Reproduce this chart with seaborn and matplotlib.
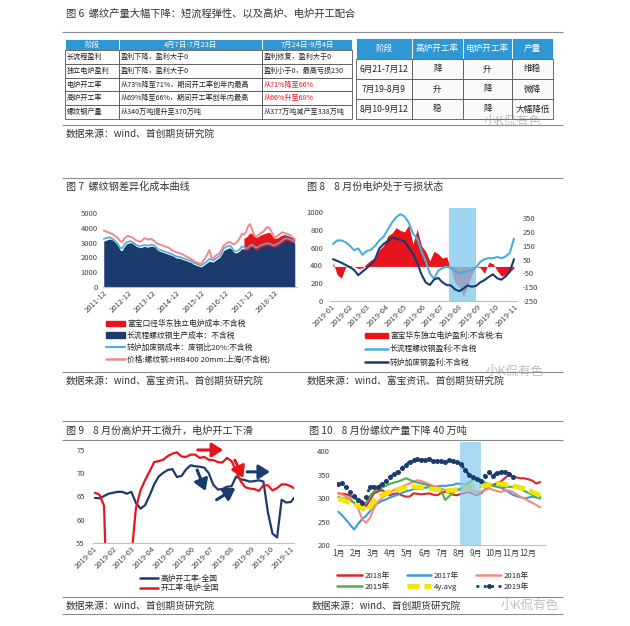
import numpy as np
import pandas as pd
import matplotlib.pyplot as plt
import matplotlib.dates as mdates
from matplotlib.patches import Rectangle, Patch
from matplotlib.lines import Line2D
import seaborn as sns

sns.set_theme(style='white')
plt.rcParams['font.family'] = ['Noto Sans CJK SC', 'DejaVu Sans']
plt.rcParams['axes.unicode_minus'] = False

# ---------------- 图6 tables ----------------
t6_header = ['阶段', '4月7日-7月23日', '7月24日-9月4日']
t6_stage = ['长流程盈利', '独立电炉盈利', '电炉开工率', '高炉开工率', '螺纹钢产量']
t6_first = ['盈利下降，盈利大于0', '盈利下降，盈利大于0', '从73%降至71%，期间开工率创年内最高',
            '从69%降至66%，期间开工率创年内最高', '从340万吨提升至370万吨']
t6_second = ['盈利修复，盈利大于0', '盈利小于0，最高亏损230', '从71%降至66%',
             '从66%升至68%', '从377万吨减产至338万吨']
t6_second_red = [False, False, True, True, False]

t6b_header = ['阶段', '高炉开工率', '电炉开工率', '产量']
t6b_period = ['6月21-7月12', '7月19-8月9', '8月10-9月12']
t6b_bf = ['降', '升', '稳']
t6b_eaf = ['升', '降', '降']
t6b_output = ['维稳', '微降', '大幅降低']

# ---------------- 图7 monthly, from 2011-12 ----------------
f7_start = '2011-12-01'
f7_long_cost = [3100,
    3150, 3200, 3250, 3200, 3100, 2950, 2800, 2500, 2450, 2700, 2900, 2950,
    3000, 2950, 2850, 2750, 2700, 2650, 2700, 2750, 2700, 2700, 2750, 2750,
    2700, 2550, 2450, 2400, 2350, 2300, 2250, 2200, 2150, 2100, 2000, 1950,
    1950, 1900, 1850, 1800, 1750, 1700, 1650, 1550, 1500, 1450, 1400, 1350,
    1450, 1550, 1650, 1750, 1700, 1700, 1800, 1900, 2000, 2200, 2450, 2550,
    2600, 2650, 2550, 2350, 2300, 2350, 2450, 2600, 2550, 2450, 2500, 2650,
    2700, 2600, 2500, 2550, 2650, 2700, 2750, 2800, 2800, 2750, 2700, 2650,
    2750, 2800, 2900, 3000, 3100, 3150, 3100, 3050, 3000, 2900]
f7_bof_scrap = [3250,
    3300, 3350, 3350, 3300, 3200, 3050, 2900, 2650, 2600, 2850, 3000, 3050,
    3100, 3050, 2950, 2850, 2800, 2750, 2800, 2850, 2800, 2800, 2850, 2850,
    2800, 2650, 2550, 2500, 2450, 2400, 2350, 2300, 2250, 2200, 2100, 2050,
    2050, 2000, 1950, 1900, 1850, 1800, 1750, 1650, 1600, 1550, 1500, 1450,
    1550, 1650, 1750, 1900, 1850, 1800, 1900, 2000, 2100, 2300, 2600, 2700,
    2750, 2800, 2700, 2450, 2400, 2450, 2550, 2750, 2700, 2600, 2650, 2800,
    2850, 2750, 2650, 2700, 2800, 2850, 2900, 2950, 2950, 2900, 2850, 2800,
    2900, 2950, 3050, 3150, 3250, 3300, 3250, 3200, 3150, 3050]
f7_eaf_cost = [np.nan] * 69 + [
    3300, 3350, 3500, 3650,
    3600, 3450, 3350, 3400, 3500, 3550, 3600, 3650, 3700, 3650, 3450, 3300,
    3300, 3350, 3450, 3500, 3550, 3500, 3450, 3400, 3350, 3300]
f7_price = [3800,
    3750, 3700, 3650, 3600, 3500, 3400, 3300, 3100, 3050, 3250, 3400, 3450,
    3400, 3350, 3250, 3150, 3100, 3050, 3150, 3300, 3250, 3200, 3250, 3200,
    3100, 2950, 2900, 2850, 2800, 2750, 2700, 2650, 2550, 2450, 2400, 2350,
    2300, 2250, 2200, 2100, 2050, 1950, 1900, 1800, 1700, 1650, 1600, 1550,
    1800, 1950, 2200, 2500, 2000, 1950, 2100, 2200, 2300, 2500, 2800, 2900,
    3000, 3050, 2950, 2900, 2950, 3100, 3300, 3600, 3550, 3700, 4100, 4250,
    3900, 3500, 3400, 3500, 3600, 3700, 3800, 4000, 4050, 3900, 3600, 3350,
    3400, 3500, 3600, 3700, 3650, 3600, 3550, 3500, 3350, 3250]
f7_ticks = ['2011-12', '2012-12', '2013-12', '2014-12', '2015-12', '2016-12', '2017-12', '2018-12']
f7_labels = ['富宝口径华东独立电炉成本:不含税', '长流程螺纹钢生产成本：不含税',
             '转炉加废钢成本：废钢比20%:不含税', '价格:螺纹钢:HRB400 20mm:上海(不含税)']

# ---------------- 图8 weekly 2019 ----------------
f8_start = '2019-01-04'
f8_eaf_profit = [30, -60, -85, -5, 5, 0, -15, -10, 20, 45, 60, 120, 150, 220, 240,
                 280, 260, 250, 300, 160, 270, 150, 110, 40, 110, 90, 60, 70, -20, -120,
                 -150, -220, -140, -60, 0, -10, -50, 30, 20, -30, -70, -60, -40, -10]
f8_long_profit = [640, 680, 680, 660, 620, 570, 590, 520, 560, 575, 620, 680, 720, 800, 880,
                  940, 975, 950, 880, 760, 700, 560, 450, 310, 250, 340, 370, 385, 370, 340,
                  310, 320, 335, 350, 380, 440, 470, 480, 480, 495, 480, 500, 540, 700]
f8_bof_profit = [470, 450, 430, 405, 380, 350, 290, 330, 370, 410, 470, 590, 640, 670, 710,
                 700, 685, 670, 600, 530, 430, 300, 210, 180, 240, 260, 210, 180, 175, 130,
                 110, 140, 175, 160, 170, 210, 235, 270, 300, 255, 240, 275, 330, 470]
f8_labels = ['富宝华东独立电炉盈利:不含税:右', '长流程螺纹钢盈利:不含税', '转炉加废钢盈利:不含税']

# ---------------- 图9 weekly 2019 ----------------
f9_start = '2019-01-04'
f9_bf_rate = [64.7, 64.6, 65.1, 65.6, 65.8, 66.0, 66.0, 65.6, 66.0, 63.6, 62.4, 63.1, 65.2, 67.6, 69.3,
              70.1, 70.7, 70.9, 69.2, 69.4, 70.8, 71.7, 71.5, 71.4, 71.2, 70.0, 67.5, 66.5, 66.6, 67.1,
              67.2, 69.3, 68.7, 68.5, 68.2, 68.3, 68.5, 68.2, 61.5, 57.0, 56.2, 64.3, 63.7, 63.8, 65.0]
f9_eaf_rate = [65.8, 65.4, 63.0, 30.0, 28.0, 26.0, 29.0, 35.0, 52.0, 62.5, 66.3, 68.5, 70.4, 72.4, 72.6,
               72.9, 73.7, 74.2, 74.5, 73.6, 73.5, 74.0, 74.0, 73.3, 73.5, 72.9, 72.8, 72.4, 72.3, 73.3,
               72.6, 70.5, 68.3, 67.0, 66.7, 66.6, 66.2, 67.4, 67.4, 66.3, 66.8, 67.6, 67.6, 67.2, 66.6]
f9_labels = ['高炉开工率-全国', '开工率:电炉:全国']

# ---------------- 图10 weekly by year ----------------
f10_2018 = [310, 309, 308, 305, 300, 296, 294, 283, 296, 310, 314, 317, 312, 306, 309, 310, 306, 303,
            303, 310, 309, 308, 309, 310, 307, 306, 311, 313, 312, 307, 306, 309, 311, 313, 309, 306,
            310, 318, 324, 328, 331, 335, 342, 349, 346, 344, 342, 342, 340, 337, 331, 334]
f10_2017 = [271, 263, 253, 243, 233, 245, 255, 262, 272, 283, 289, 294, 297, 301, 304, 307, 311, 314,
            316, 319, 320, 321, 322, 323, 324, 325, 326, 326, 327, 328, 331, 330, 328, 333, 338, 342,
            339, 333, 328, 327, 325, 323, 318, 313, 307, 304, 302, 299, 301, 303, 301, 299]
f10_2016 = [310, 307, 303, 299, 290, 278, 256, 247, 258, 278, 292, 300, 306, 311, 317, 320, 324, 328,
            331, 335, 338, 336, 333, 329, 326, 323, 320, 317, 315, 315, 317, 317, 318, 320, 316, 313,
            313, 317, 320, 318, 315, 313, 316, 316, 313, 308, 303, 299, 294, 290, 285, 280]
f10_2015 = [302, 300, 298, 295, 290, 286, 282, 290, 305, 314, 318, 322, 326, 330, 333, 335, 338, 342,
            339, 335, 333, 331, 329, 326, 322, 319, 315, 296, 304, 312, 317, 321, 326, 331, 342, 338,
            335, 333, 329, 326, 324, 322, 323, 324, 324, 322, 320, 315, 311, 307, 304, 302]
f10_avg4y = [298, 296, 293, 290, 287, 284, 279, 272, 280, 294, 301, 306, 310, 313, 316, 318, 320, 322,
             323, 324, 323, 322, 321, 320, 319, 318, 317, 316, 316, 317, 318, 320, 322, 324, 326, 327,
             327, 326, 328, 330, 331, 330, 329, 327, 326, 324, 322, 320, 317, 313, 309, 305]
f10_2019 = [330, 331, 323, 312, 304, 295, 290, 302, 324, 324, 323, 329, 337, 345, 351, 356, 364, 371,
            377, 381, 383, 382, 381, 384, 379, 378, 378, 377, 381, 378, 376, 372, 360, 350, 345, 340,
            337, 348, 355, 346, 354, 356, 356, 352, 345] + [np.nan] * 7
f10_months = ['1月', '2月', '3月', '4月', '5月', '6月', '7月', '8月', '9月', '10月', '11月', '12月']

RED = '#E8141C'
NAVY = '#1B3A6E'
LBLUE = '#4AAEDD'
PINK = '#F0898B'
RECT = '#86CBEF'
HEAD = '#2F97D3'
TXT = '#333333'

W, H = 630, 626
fig = plt.figure(figsize=(W / 100, H / 100), dpi=100)
bg = fig.add_axes([0, 0, 1, 1])
bg.set_xlim(0, W)
bg.set_ylim(H, 0)
bg.axis('off')


def px_axes(x0, y0, x1, y1):
    ax = fig.add_axes([x0 / W, 1 - y1 / H, (x1 - x0) / W, (y1 - y0) / H])
    ax.set_facecolor('none')
    return ax


def style_ax(ax, ypad=4):
    for s in ['top', 'right', 'left']:
        ax.spines[s].set_visible(False)
    ax.spines['bottom'].set_color('#BFBFBF')
    ax.spines['bottom'].set_linewidth(0.8)
    ax.tick_params(axis='both', labelsize=5.5, colors='#404040', length=0)
    ax.tick_params(axis='y', pad=ypad)
    ax.tick_params(axis='x', pad=1.5)
    ax.set_xlabel('')
    ax.set_ylabel('')
    ax.grid(False)


def rotate_dates(ax, ticks):
    ax.set_xticks(pd.to_datetime(ticks))
    ax.set_xticklabels(ticks, rotation=45, ha='right', rotation_mode='anchor')


# ---- frame lines, titles, sources ----
bg.hlines([32, 124.5, 178, 372, 421, 440, 597, 614], 62, 563, color='#8C8C8C', lw=0.8)
bg.text(66, 14, '图 6  螺纹产量大幅下降：短流程弹性、以及高炉、电炉开工配合', fontsize=7.4, color=TXT, va='center')
bg.text(66, 134, '数据来源：wind、首创期货研究院', fontsize=7, color=TXT, va='center')
bg.text(66, 187, '图 7  螺纹钢差异化成本曲线', fontsize=7.3, color=TXT, va='center')
bg.text(307, 187, '图 8    8 月份电炉处于亏损状态', fontsize=7.3, color=TXT, va='center')
bg.text(66, 381, '数据来源：wind、富宝资讯、首创期货研究院', fontsize=7, color=TXT, va='center')
bg.text(307, 381, '数据来源：wind、富宝资讯、首创期货研究院', fontsize=7, color=TXT, va='center')
bg.text(66, 431, '图 9    8 月份高炉开工微升，电炉开工下滑', fontsize=7.3, color=TXT, va='center')
bg.text(309, 431, '图 10    8 月份螺纹产量下降 40 万吨', fontsize=7.3, color=TXT, va='center')
bg.text(66, 606, '数据来源：wind、首创期货研究院', fontsize=7, color=TXT, va='center')
bg.text(312, 606, '数据来源：wind、首创期货研究院', fontsize=7, color=TXT, va='center')

# ---- table 6 left ----
xe = [65, 119, 262, 352]
ye = [39] + list(np.linspace(50, 119, 6))
for j, h in enumerate(t6_header):
    bg.add_patch(Rectangle((xe[j], ye[0]), xe[j + 1] - xe[j], ye[1] - ye[0], fc=HEAD, ec='white', lw=0.6))
    bg.text((xe[j] + xe[j + 1]) / 2, (ye[0] + ye[1]) / 2, h, color='white', fontsize=5.4, ha='center', va='center')
for i in range(len(t6_stage)):
    row = [t6_stage[i], t6_first[i], t6_second[i]]
    for j, txt in enumerate(row):
        bg.add_patch(Rectangle((xe[j], ye[i + 1]), xe[j + 1] - xe[j], ye[i + 2] - ye[i + 1],
                               fc='white', ec='#555555', lw=0.6))
        col = RED if (j == 2 and t6_second_red[i]) else '#222222'
        bg.text(xe[j] + 1.5, (ye[i + 1] + ye[i + 2]) / 2, txt, color=col, fontsize=5.1, ha='left', va='center')

# ---- table 6 right ----
xr = [356, 412, 463, 512, 553]
yr = [38, 59, 79, 99, 119]
for j, h in enumerate(t6b_header):
    bg.add_patch(Rectangle((xr[j], yr[0]), xr[j + 1] - xr[j], yr[1] - yr[0], fc=HEAD, ec='white', lw=0.6))
    bg.text((xr[j] + xr[j + 1]) / 2, (yr[0] + yr[1]) / 2, h, color='white', fontsize=6.2, ha='center', va='center')
for i in range(len(t6b_period)):
    row = [t6b_period[i], t6b_bf[i], t6b_eaf[i], t6b_output[i]]
    for j, txt in enumerate(row):
        bg.add_patch(Rectangle((xr[j], yr[i + 1]), xr[j + 1] - xr[j], yr[i + 2] - yr[i + 1],
                               fc='#FAFAFA', ec='#555555', lw=0.6))
        bg.text((xr[j] + xr[j + 1]) / 2, (yr[i + 1] + yr[i + 2]) / 2, txt, color='#222222',
                fontsize=6.2, ha='center', va='center')

# ---- 图7 ----
ax7 = px_axes(103, 213, 297, 287)
d7 = pd.date_range(f7_start, periods=len(f7_long_cost), freq='MS')
ax7.fill_between(d7, 0, np.array(f7_eaf_cost, dtype=float), color=RED, lw=0, zorder=1)
ax7.fill_between(d7, 0, np.array(f7_long_cost, dtype=float), color=NAVY, lw=0, zorder=2)
sns.lineplot(x=d7, y=f7_bof_scrap, ax=ax7, color=LBLUE, lw=1.2, zorder=3)
sns.lineplot(x=d7, y=f7_price, ax=ax7, color=PINK, lw=1.4, zorder=4)
ax7.set_ylim(0, 5000)
ax7.set_yticks(range(0, 5001, 1000))
ax7.set_xlim(pd.Timestamp('2011-11-20'), pd.Timestamp('2019-11-05'))
style_ax(ax7)
rotate_dates(ax7, f7_ticks)
h7 = [Patch(color=RED), Patch(color=NAVY), Line2D([], [], color=LBLUE, lw=1.5), Line2D([], [], color=PINK, lw=1.8)]
fig.legend(h7, f7_labels, loc='upper left', bbox_to_anchor=(106 / W, 1 - 320 / H), frameon=False,
           fontsize=5.6, handlelength=2.4, handletextpad=0.3, labelspacing=0.45, borderpad=0, borderaxespad=0)

# ---- 图8 ----
ax8 = px_axes(330, 207.5, 517, 301)
ax8r = ax8.twinx()
d8 = pd.date_range(f8_start, periods=len(f8_long_profit), freq='7D')
ax8r.fill_between(d8, 0, f8_eaf_profit, color=RED, lw=0)
ax8r.set_ylim(-250, 426)
ax8r.set_yticks([-250, -150, -50, 50, 150, 250, 350])
ax8.set_zorder(ax8r.get_zorder() + 1)
ax8.patch.set_visible(False)
ax8.axvspan(pd.Timestamp('2019-07-16'), pd.Timestamp('2019-08-30'), color=RECT, alpha=0.8, lw=0, zorder=1)
sns.lineplot(x=d8, y=f8_long_profit, ax=ax8, color=LBLUE, lw=1.5, zorder=3)
sns.lineplot(x=d8, y=f8_bof_profit, ax=ax8, color=NAVY, lw=1.5, zorder=4)
ax8.set_ylim(0, 1050)
ax8.set_yticks(range(0, 1001, 200))
ax8.set_xlim(pd.Timestamp('2018-12-30'), pd.Timestamp('2019-11-06'))
style_ax(ax8, ypad=5)
for s in ax8r.spines.values():
    s.set_visible(False)
ax8r.tick_params(axis='y', labelsize=5.5, colors='#404040', length=0, pad=4)
ax8r.grid(False)
ax8r.set_ylabel('')
rotate_dates(ax8, [f'2019-{m:02d}' for m in range(1, 12)])
h8 = [Patch(color=RED), Line2D([], [], color=LBLUE, lw=1.8), Line2D([], [], color=NAVY, lw=1.8)]
fig.legend(h8, f8_labels, loc='upper left', bbox_to_anchor=(365 / W, 1 - 332 / H), frameon=False,
           fontsize=5.6, handlelength=2.9, handletextpad=0.3, labelspacing=0.65, borderpad=0, borderaxespad=0)

# ---- 图9 ----
ax9 = px_axes(93, 443, 294, 543)
d9 = pd.date_range(f9_start, periods=len(f9_bf_rate), freq='7D')
sns.lineplot(x=d9, y=f9_bf_rate, ax=ax9, color=NAVY, lw=1.6)
sns.lineplot(x=d9, y=f9_eaf_rate, ax=ax9, color=RED, lw=1.6)
ax9.set_ylim(55, 76.5)
ax9.set_yticks([55, 60, 65, 70, 75])
ax9.set_xlim(pd.Timestamp('2019-01-01'), pd.Timestamp('2019-11-06'))
style_ax(ax9, ypad=6)
rotate_dates(ax9, [f'2019-{m:02d}' for m in range(1, 12)])


def arrow(ax, d0, v0, d1, v1, color):
    ax.annotate('', xy=(mdates.date2num(pd.Timestamp(d1)), v1), xytext=(mdates.date2num(pd.Timestamp(d0)), v0),
                arrowprops=dict(arrowstyle='-|>,head_width=0.35,head_length=0.55', color=color, lw=2.2,
                                shrinkA=0, shrinkB=0))


arrow(ax9, '2019-06-11', 75, '2019-07-20', 75, RED)
arrow(ax9, '2019-08-07', 72.8, '2019-08-20', 69.0, RED)
arrow(ax9, '2019-06-10', 70.7, '2019-06-23', 66.2, NAVY)
arrow(ax9, '2019-07-10', 64.3, '2019-08-08', 66.8, NAVY)
arrow(ax9, '2019-08-26', 70.3, '2019-09-30', 70.3, NAVY)
h9 = [Line2D([], [], color=NAVY, lw=1.8), Line2D([], [], color=RED, lw=1.8)]
fig.legend(h9, f9_labels, loc='upper left', bbox_to_anchor=(140 / W, 1 - 575 / H), frameon=False,
           fontsize=5.6, handlelength=2.3, handletextpad=0.3, labelspacing=0.15, borderpad=0, borderaxespad=0)

# ---- 图10 ----
ax10 = px_axes(337, 441.7, 545, 545)
wk = np.arange(1, len(f10_2018) + 1)
C18, C17, C16, C15, CAVG = '#E0242B', '#3C9BD6', '#F28B82', '#4DAF4A', '#F3E500'
sns.lineplot(x=wk, y=f10_2018, ax=ax10, color=C18, lw=1.5, zorder=2)
sns.lineplot(x=wk, y=f10_2017, ax=ax10, color=C17, lw=1.5, zorder=2)
sns.lineplot(x=wk, y=f10_2016, ax=ax10, color=C16, lw=1.5, zorder=2)
sns.lineplot(x=wk, y=f10_2015, ax=ax10, color=C15, lw=1.5, zorder=2)
sns.lineplot(x=wk, y=f10_avg4y, ax=ax10, color=CAVG, lw=3.5, linestyle=(0, (2.5, 1.0)), zorder=2.5)
ax10.axvspan(31.8, 37.1, color=RECT, alpha=0.7, lw=0, zorder=3)
sns.lineplot(x=wk, y=f10_2019, ax=ax10, color=NAVY, lw=2, linestyle=':', marker='o',
             markersize=3.6, markeredgewidth=0, zorder=4)
ax10.set_ylim(200, 420)
ax10.set_yticks(range(200, 401, 50))
ax10.set_xlim(0.67, 53.2)
ax10.set_xticks(1 + np.arange(12) * 4.35)
ax10.set_xticklabels(f10_months)
style_ax(ax10, ypad=5)
ax10.tick_params(axis='x', labelsize=5.8, pad=3)
h10 = [Line2D([], [], color=C18, lw=1.8), Line2D([], [], color=C15, lw=1.8),
       Line2D([], [], color=C17, lw=1.8), Line2D([], [], color=CAVG, lw=3.5, ls=(0, (2.5, 1.0))),
       Line2D([], [], color=C16, lw=1.8), Line2D([], [], color=NAVY, lw=2, ls=':', marker='o', ms=3.6, mew=0)]
l10 = ['2018年', '2015年', '2017年', '4y.avg', '2016年', '2019年']
fig.legend(h10, l10, loc='upper left', bbox_to_anchor=(337 / W, 1 - 572 / H), frameon=False, ncol=3,
           fontsize=5.6, handlelength=3.2, handletextpad=0.3, labelspacing=0.4, columnspacing=2.2,
           borderpad=0, borderaxespad=0)

# ---- watermarks ----
for (wx, wy) in [(513, 121), (515, 371), (530, 605)]:
    bg.text(wx, wy, '小K侃有色', fontsize=9, color='#8A8A8A', alpha=0.55, ha='center', va='center', zorder=10)

fig.savefig('out.png', dpi=100)
